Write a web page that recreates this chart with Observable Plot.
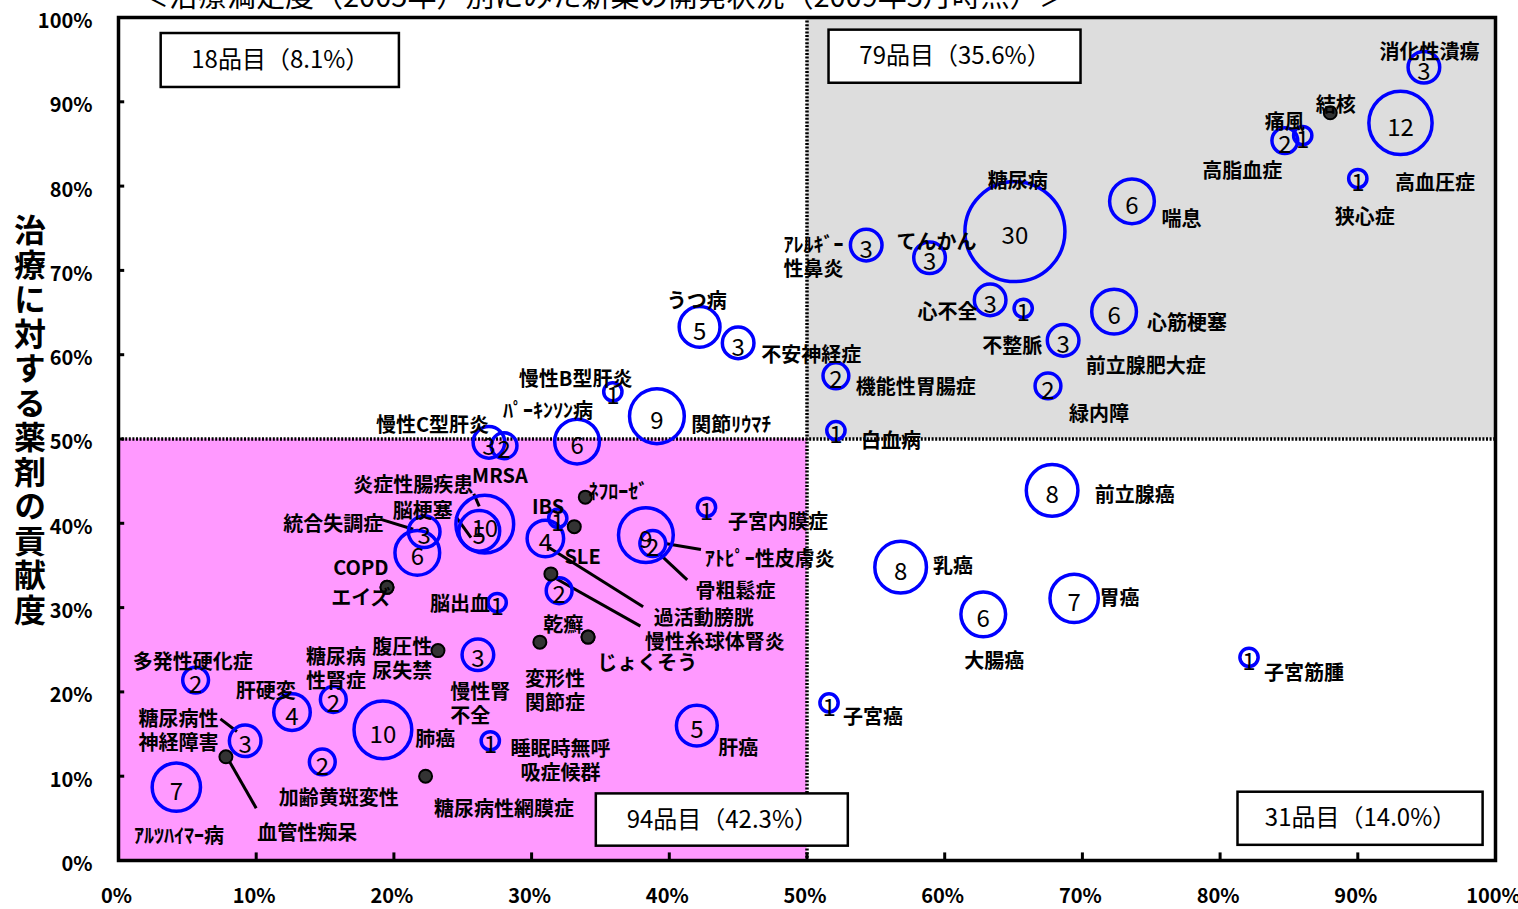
<!DOCTYPE html>
<html><head><meta charset="utf-8">
<script src="https://cdn.jsdelivr.net/npm/d3@7"></script>
<script src="https://cdn.jsdelivr.net/npm/@observablehq/plot@0.6"></script>
<style>
body{margin:0;background:#fff;overflow:hidden;}
#wrap{position:relative;width:1518px;height:909px;overflow:hidden;}
#title{position:absolute;left:140px;top:-20px;font:29px/1 "Noto Sans CJK JP";white-space:nowrap;color:#000;}
#ylab{position:absolute;left:14px;top:214px;writing-mode:vertical-rl;text-orientation:upright;font:bold 32px/1 "Noto Sans CJK JP";letter-spacing:2.5px;color:#000;}
</style></head><body>
<div id="wrap"><div id="chart"></div>
<div id="title">＜治療満足度（2005年）別にみた新薬の開発状況（2009年5月時点）＞</div>
<div id="ylab">治療に対する薬剤の貢献度</div>
</div>
<script>
// ---- data: disease, treatment satisfaction (x %), drug contribution (y %), number of drugs in development
const diseases = ["消化性潰瘍","結核","痛風","高脂血症","高血圧症","狭心症","喘息","糖尿病","アレルギー性鼻炎","てんかん",
 "心不全","不整脈","前立腺肥大症","心筋梗塞","緑内障","機能性胃腸症","白血病","うつ病","不安神経症","慢性B型肝炎",
 "関節リウマチ","パーキンソン病","慢性C型肝炎","MRSA","炎症性腸疾患","脳梗塞","統合失調症","その他A","IBS","SLE",
 "ネフローゼ","過活動膀胱","慢性糸球体腎炎","その他B","骨粗鬆症","アトピー性皮膚炎","子宮内膜症","COPD","エイズ","脳出血",
 "乾癬","変形性関節症","じょくそう","腹圧性尿失禁","慢性腎不全","多発性硬化症","肝硬変","糖尿病性腎症","糖尿病性神経障害","血管性痴呆",
 "アルツハイマー病","加齢黄斑変性","肺癌","睡眠時無呼吸症候群","糖尿病性網膜症","肝癌","前立腺癌","乳癌","胃癌","大腸癌",
 "子宮筋腫","子宮癌"];
const satisfaction = [94.8,88.0,86.0,84.7,93.1,90.0,73.6,65.1,54.3,58.9,
 63.3,65.7,68.6,72.3,67.5,52.1,52.1,42.2,45.0,35.9,
 39.1,33.3,26.9,28.0,26.6,26.2,22.2,21.7,31.9,33.1,
 33.9,31.0,31.4,32.0,38.3,38.8,42.7,19.5,19.5,27.5,
 34.1,30.6,34.1,23.2,26.1,5.6,12.6,15.6,9.2,7.8,
 4.2,14.8,19.2,27.0,22.3,42.0,67.8,56.8,69.4,62.8,
 82.1,51.6];
const contribution = [94.1,88.7,86.0,85.4,87.5,80.9,78.2,74.6,73.0,71.5,
 66.5,65.5,61.7,65.1,56.3,57.5,51.0,63.3,61.4,55.6,
 52.7,49.7,49.6,49.2,39.9,39.1,39.0,36.5,40.6,39.6,
 43.1,38.2,34.0,32.0,38.6,37.6,41.9,32.4,32.4,30.6,
 26.5,25.9,26.5,24.9,24.4,21.4,17.6,19.1,14.2,12.3,
 8.7,11.7,15.5,14.2,10.0,16.0,43.9,34.8,31.1,29.2,
 24.1,18.7];
const drugCount = [3,0,1,2,12,1,6,30,3,3,
 3,1,3,6,2,2,1,5,3,1,
 9,6,3,2,10,5,3,6,1,0,
 0,4,0,2,9,2,1,0,0,1,
 0,0,0,0,3,2,4,2,3,0,
 7,2,10,1,0,5,8,8,7,6,
 1,1];

// ---- annotation labels (text, x %, y %)
const labelText = ["消化性潰瘍","結核","痛風","高脂血症","高血圧症","狭心症","喘息","糖尿病","ｱﾚﾙｷﾞｰ\n性鼻炎","てんかん",
 "心不全","不整脈","心筋梗塞","前立腺肥大症","緑内障","機能性胃腸症","白血病","不安神経症","うつ病","慢性B型肝炎",
 "関節ﾘｳﾏﾁ","ﾊﾟｰｷﾝｿﾝ病","慢性C型肝炎","MRSA","炎症性腸疾患","脳梗塞","統合失調症","ﾈﾌﾛｰｾﾞ","IBS","SLE",
 "子宮内膜症","ｱﾄﾋﾟｰ性皮膚炎","骨粗鬆症","過活動膀胱","慢性糸球体腎炎","COPD","エイズ","脳出血","乾癬","じょくそう",
 "変形性\n関節症","慢性腎\n不全","腹圧性\n尿失禁","糖尿病\n性腎症","多発性硬化症","肝硬変","糖尿病性\n神経障害","肺癌","睡眠時無呼\n吸症候群","加齢黄斑変性",
 "糖尿病性網膜症","血管性痴呆","ｱﾙﾂﾊｲﾏｰ病","肝癌","前立腺癌","乳癌","胃癌","大腸癌","子宮筋腫","子宮癌"];
const labelX = [95.2,88.4,84.7,81.6,95.6,90.5,77.2,65.3,48.3,59.4,
 60.2,64.9,77.6,74.6,71.2,57.9,56.1,50.3,42.0,33.2,
 44.5,31.2,22.8,27.7,21.4,22.1,15.6,36.3,31.2,33.7,
 47.9,47.3,44.8,42.5,43.3,17.6,17.6,24.8,32.3,38.4,
 31.7,24.1,20.6,15.8,5.4,10.7,1.45,23.0,32.1,16.0,
 28.0,13.7,4.4,45.0,73.8,60.6,72.7,63.6,86.1,54.8];
const labelY = [96.0,89.7,87.7,81.9,80.5,76.4,76.2,80.7,71.7,73.5,
 65.1,61.1,63.8,58.8,53.0,56.2,49.8,60.0,66.5,57.2,
 51.7,53.4,51.8,45.7,44.6,41.5,40.0,43.8,42.0,36.1,
 40.2,35.9,32.1,28.9,26.0,34.8,31.2,30.5,28.0,23.5,
 20.2,18.7,24.0,22.8,23.6,20.2,15.5,14.5,11.9,7.5,
 6.2,3.4,3.0,13.4,43.4,35.0,31.2,23.8,22.3,17.1];
const leftAligned = ["ｱﾚﾙｷﾞｰ\n性鼻炎","慢性腎\n不全","糖尿病性\n神経障害"];

// ---- leader lines
const leaderX1 = [25.8,24.5,19.0,39.7,39.4,31.2,31.6,7.4,7.9];
const leaderY1 = [43.5,40.8,40.5,37.6,36.2,37.2,33.6,16.8,12.2];
const leaderX2 = [26.2,25.6,21.4,42.3,41.3,38.1,37.9,8.6,10.0];
const leaderY2 = [42.0,38.3,39.3,36.9,33.3,30.1,27.8,15.3,6.2];

// ---- quadrant summary boxes
const boxText = ["18品目（8.1%）","79品目（35.6%）","94品目（42.3%）","31品目（14.0%）"];
const boxX1 = [3.1,51.6,34.7,81.3];
const boxX2 = [20.4,69.9,53.0,99.1];
const boxY1 = [91.7,92.2,1.7,1.8];
const boxY2 = [98.1,98.5,7.9,8.1];

const xTicks = [0,10,20,30,40,50,60,70,80,90,100];
const yTicks = [0,10,20,30,40,50,60,70,80,90,100];

const pts = diseases.map((d,i)=>({name:d, x:satisfaction[i], y:contribution[i], n:drugCount[i]}));
const bubbles = pts.filter(d=>d.n>0);
const zeros = pts.filter(d=>d.n===0);
const labels = labelText.map((t,i)=>({t, x:labelX[i], y:labelY[i]}));
const labelsMid = labels.filter(d=>!leftAligned.includes(d.t));
const labelsLeft = labels.filter(d=>leftAligned.includes(d.t));
const leaders = leaderX1.map((v,i)=>({x1:v,y1:leaderY1[i],x2:leaderX2[i],y2:leaderY2[i]}));
const boxes = boxText.map((t,i)=>({t,x1:boxX1[i],x2:boxX2[i],y1:boxY1[i],y2:boxY2[i]}));

const F = "Noto Sans CJK JP";
const labelOpts = {x:"x",y:"y",text:"t",fontSize:20,fontWeight:"bold",lineHeight:1.2,fill:"black",fontFamily:F};
const chart = Plot.plot({
  width:1518, height:909,
  marginLeft:118, marginRight:23, marginTop:17, marginBottom:49,
  x:{domain:[0,100]}, y:{domain:[0,100]},
  r:{type:"sqrt", domain:[0,30], range:[0,50]},
  style:{fontFamily:F, background:"transparent", color:"black"},
  marks:[
    Plot.rect([0],{x1:0,x2:50,y1:0,y2:50,fill:"#ff99ff"}),
    Plot.rect([0],{x1:50,x2:100,y1:50,y2:100,fill:"#dddddd"}),
    Plot.ruleX([50],{stroke:"black",strokeWidth:3.5,strokeDasharray:"2,1.6"}),
    Plot.ruleY([50],{stroke:"black",strokeWidth:3.5,strokeDasharray:"2,1.6"}),
    Plot.frame({stroke:"black",strokeWidth:3.5}),
    Plot.ruleX(xTicks,{y1:0,y2:0.9,stroke:"black",strokeWidth:3}),
    Plot.ruleY(yTicks,{x1:0,x2:0.45,stroke:"black",strokeWidth:3}),
    Plot.axisX(xTicks,{tickSize:0,tickPadding:28,tickFormat:d=>d+"%",fontSize:20,fontWeight:"bold",label:null,fontFamily:F,dx:-2}),
    Plot.axisY(yTicks,{tickSize:0,tickPadding:26,tickFormat:d=>d+"%",fontSize:20,fontWeight:"bold",label:null,fontFamily:F,dy:4}),
    Plot.link(leaders,{x1:"x1",y1:"y1",x2:"x2",y2:"y2",stroke:"black",strokeWidth:3}),
    Plot.dot(bubbles,{x:"x",y:"y",r:"n",stroke:"#0000ff",strokeWidth:3.5,fill:"none"}),
    Plot.dot(zeros,{x:"x",y:"y",r:6.5,fill:"#333333",stroke:"black",strokeWidth:2}),
    Plot.text(bubbles,{x:"x",y:"y",text:d=>String(d.n),fontSize:24,dy:5,fill:"black",fontFamily:F}),
    Plot.text(labelsMid,{...labelOpts,textAnchor:"middle"}),
    Plot.text(labelsLeft,{...labelOpts,textAnchor:"start"}),
    Plot.rect(boxes,{x1:"x1",x2:"x2",y1:"y1",y2:"y2",fill:"white",stroke:"black",strokeWidth:2.5}),
    Plot.text(boxes,{x:d=>(d.x1+d.x2)/2,y:d=>(d.y1+d.y2)/2,text:"t",fontSize:24,fill:"black",fontFamily:F})
  ]
});
document.getElementById("chart").appendChild(chart);
</script>
</body></html>
